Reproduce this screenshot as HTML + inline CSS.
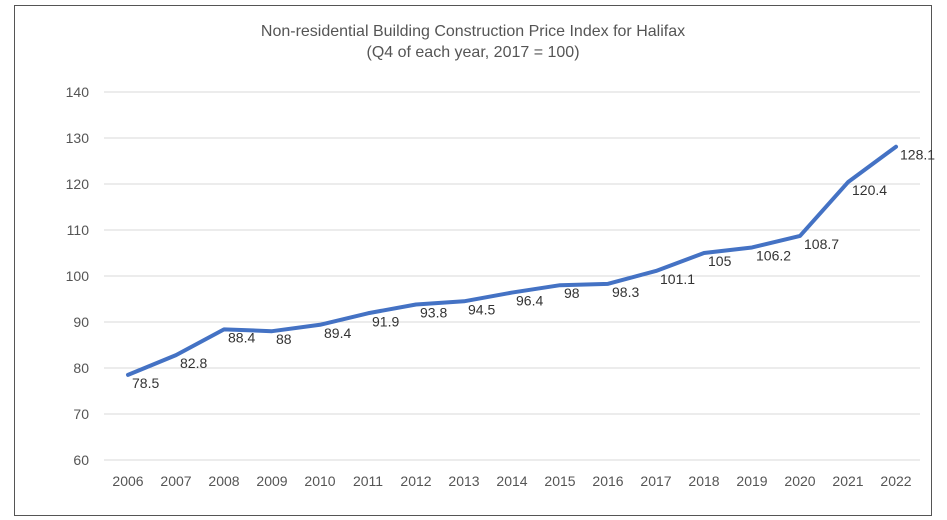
<!DOCTYPE html>
<html><head><meta charset="utf-8"><style>
body{margin:0;background:#fff;}
svg{display:block;font-family:"Liberation Sans",Arial,sans-serif;}
</style></head><body>
<svg id="chart" width="947" height="520">
<rect x="14.5" y="5.5" width="917" height="510" fill="#fff" stroke="#555" stroke-width="1"/>
<text x="473" y="36" text-anchor="middle" font-size="16" fill="#555">Non-residential Building Construction Price Index for Halifax</text>
<text x="473" y="57" text-anchor="middle" font-size="16" fill="#555">(Q4 of each year, 2017 = 100)</text>
<g id="grid"></g><g id="series"></g><g id="labels"></g>
</svg>
<script>
const years=["2006","2007","2008","2009","2010","2011","2012","2013","2014","2015","2016","2017","2018","2019","2020","2021","2022"];
const values=[78.5,82.8,88.4,88,89.4,91.9,93.8,94.5,96.4,98,98.3,101.1,105,106.2,108.7,120.4,128.1];
const yTicks=[60,70,80,90,100,110,120,130,140];
const NS="http://www.w3.org/2000/svg";
const plotL=104,plotR=920,plotT=92,plotB=460,yMin=60,yMax=140;
const bw=(plotR-plotL)/years.length;
function xs(i){return plotL+bw*(i+0.5);}
function ys(v){return plotB-(v-yMin)/(yMax-yMin)*(plotB-plotT);}
function mk(t,a,p){const e=document.createElementNS(NS,t);for(const k in a)e.setAttribute(k,a[k]);p.appendChild(e);return e;}
const g=document.getElementById('grid');
yTicks.forEach(t=>{
  const l=mk('line',{x1:plotL,x2:plotR,y1:ys(t),y2:ys(t),stroke:'#d9d9d9','stroke-width':1},g);
  
  
  const tx=mk('text',{x:89,y:ys(t)+5,'text-anchor':'end','font-size':14,fill:'#555'},g);
  tx.textContent=t;
  
  
});
years.forEach((y,i)=>{
  const tx=mk('text',{x:xs(i),y:486,'text-anchor':'middle','font-size':14,fill:'#555'},g);
  tx.textContent=y;
  
  
});
const pts=values.map((v,i)=>xs(i)+','+ys(v)).join(' ');
const pl=mk('polyline',{points:pts,fill:'none',stroke:'#4472c4','stroke-width':4,'stroke-linejoin':'round','stroke-linecap':'round'},document.getElementById('series'));


const lg=document.getElementById('labels');
values.forEach((v,i)=>{
  const tx=mk('text',{x:xs(i)+4,y:ys(v)+13,'font-size':14,fill:'#333'},lg);
  tx.textContent=v;
  
  
});
</script>
</body></html>
